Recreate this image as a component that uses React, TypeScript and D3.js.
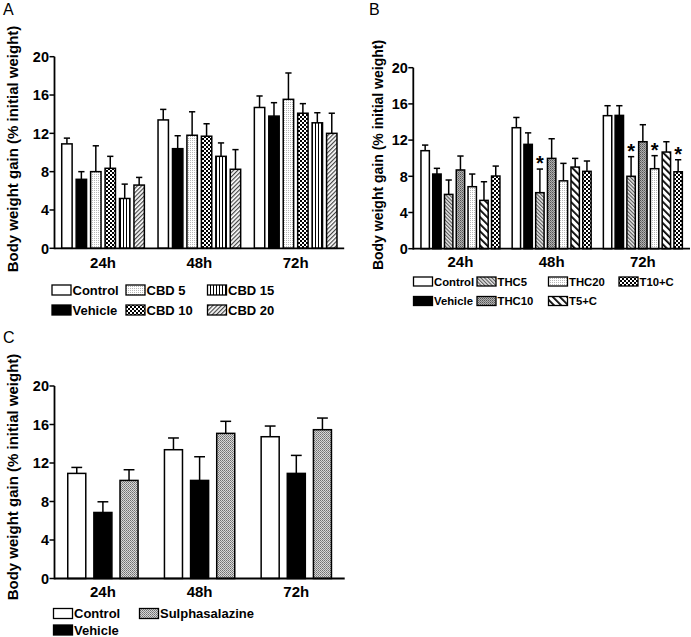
import React from "react";
import * as d3 from "d3";

const FONT = "'Liberation Sans', Arial, Helvetica, sans-serif";

const timepoints = ["24h", "48h", "72h"];
const yTicks = [0, 4, 8, 12, 16, 20];

// Panel A
const cbdSeries = ["Control", "Vehicle", "CBD 5", "CBD 10", "CBD 15", "CBD 20"];
const cbdMeans = [
  [10.9, 13.4, 14.7],
  [7.2, 10.4, 13.8],
  [8.0, 11.8, 15.55],
  [8.35, 11.7, 14.1],
  [5.2, 9.6, 13.1],
  [6.6, 8.25, 12.0],
];
const cbdSems = [
  [0.6, 1.1, 1.2],
  [0.8, 1.35, 1.4],
  [2.7, 2.45, 2.75],
  [1.25, 1.3, 1.0],
  [1.5, 1.4, 1.05],
  [0.8, 2.05, 2.1],
];

// Panel B
const thcSeries = ["Control", "Vehicle", "THC5", "THC10", "THC20", "T5+C", "T10+C"];
const thcMeans = [
  [10.83, 13.37, 14.7],
  [8.25, 11.53, 14.73],
  [6.0, 6.19, 8.0],
  [8.7, 9.98, 11.82],
  [6.85, 7.5, 8.84],
  [5.34, 9.02, 10.68],
  [8.03, 8.55, 8.5],
];
const thcSems = [
  [0.62, 1.13, 1.1],
  [0.63, 1.27, 1.07],
  [1.59, 2.61, 2.17],
  [1.54, 2.17, 1.88],
  [1.4, 1.93, 1.44],
  [2.06, 0.96, 1.14],
  [1.1, 1.14, 1.33],
];
// [timepoint index, series index] flagged with *
const thcSignif = [
  [1, 2],
  [2, 2],
  [2, 4],
  [2, 6],
];

// Panel C
const sulSeries = ["Control", "Vehicle", "Sulphasalazine"];
const sulMeans = [
  [10.92, 13.38, 14.73],
  [6.86, 10.19, 10.92],
  [10.19, 15.08, 15.46],
];
const sulSems = [
  [0.62, 1.22, 1.11],
  [1.11, 2.46, 1.87],
  [1.11, 1.25, 1.21],
];

const fillA = ["#fff", "#000", "url(#pDots)", "url(#pChecker)", "url(#pVert)", "url(#pDiagFine)"];
const fillB = ["#fff", "#000", "url(#pDiagFine2)", "url(#pGrayDark)", "url(#pDots)", "url(#pDiagBold)", "url(#pChecker)"];
const fillC = ["#fff", "#000", "url(#pGrayMid)"];

type PanelProps = {
  series: string[];
  means: number[][];
  sems: number[][];
  fills: string[];
  x0: number;
  x1: number;
  y0: number;
  y1: number;
  pi: number;
  po: number;
  barPad: number;
  capFrac: number;
  stars?: number[][];
  tickSize: number;
  xLabelSize: number;
  xLabelDy: number;
};

function Panel(p: PanelProps) {
  const y = d3.scaleLinear().domain([0, 20]).range([p.y0, p.y1]);
  const xg = d3
    .scaleBand<string>()
    .domain(timepoints)
    .range([p.x0, p.x1])
    .paddingInner(p.pi)
    .paddingOuter(p.po);
  const xs = d3
    .scaleBand<string>()
    .domain(p.series)
    .range([0, xg.bandwidth()])
    .paddingInner(p.barPad)
    .paddingOuter(0);
  const bw = xs.bandwidth();
  const cap = bw * p.capFrac;
  const elems: React.ReactNode[] = [];
  timepoints.forEach((t, ti) => {
    p.series.forEach((s, si) => {
      const m = p.means[si][ti];
      const e = p.sems[si][ti];
      const bx = (xg(t) as number) + (xs(s) as number);
      const cx = bx + bw / 2;
      elems.push(
        <line key={`e${ti}-${si}`} x1={cx} x2={cx} y1={y(m)} y2={y(m + e)} stroke="#000" strokeWidth={1.5} />
      );
      elems.push(
        <line key={`c${ti}-${si}`} x1={cx - cap / 2} x2={cx + cap / 2} y1={y(m + e)} y2={y(m + e)} stroke="#000" strokeWidth={1.5} />
      );
      elems.push(
        <rect key={`b${ti}-${si}`} x={bx} y={y(m)} width={bw} height={y(0) - y(m)} fill={p.fills[si]} stroke="#000" strokeWidth={1.5} />
      );
    });
  });
  (p.stars || []).forEach(([ti, si], k) => {
    const t = timepoints[ti];
    const s = p.series[si];
    const cx = (xg(t) as number) + (xs(s) as number) + bw / 2;
    const top = y(p.means[si][ti] + p.sems[si][ti]);
    elems.push(
      <text key={`s${k}`} x={cx} y={top + 1} textAnchor="middle" fontSize={20} fontWeight="bold" fontFamily={FONT}>
        *
      </text>
    );
  });
  return (
    <g>
      {elems}
      <line x1={p.x0} x2={p.x1} y1={p.y0} y2={p.y0} stroke="#000" strokeWidth={1.8} />
      <line x1={p.x0} x2={p.x0} y1={p.y0 + 0.9} y2={y(20)} stroke="#000" strokeWidth={1.8} />
      {yTicks.map((v) => (
        <g key={`t${v}`}>
          <line x1={p.x0 - 5} x2={p.x0} y1={y(v)} y2={y(v)} stroke="#000" strokeWidth={1.5} />
          <text x={p.x0 - 5.5} y={y(v)} dy="0.36em" textAnchor="end" fontSize={p.tickSize} fontWeight="bold" fontFamily={FONT}>
            {v}
          </text>
        </g>
      ))}
      {timepoints.map((t) => (
        <text
          key={`x${t}`}
          x={(xg(t) as number) + xg.bandwidth() / 2}
          y={p.y0 + p.xLabelDy}
          textAnchor="middle"
          fontSize={p.xLabelSize}
          fontWeight="bold"
          fontFamily={FONT}
        >
          {t}
        </text>
      ))}
    </g>
  );
}

type LegendProps = {
  series: string[];
  fills: string[];
  colX: number[];
  rowY: number[];
  sw: number;
  sh: number;
  fontSize: number;
};

function Legend(l: LegendProps) {
  return (
    <g>
      {l.series.map((s, i) => {
        const cx = l.colX[Math.floor(i / 2)];
        const cy = l.rowY[i % 2];
        return (
          <g key={s}>
            <rect x={cx} y={cy - l.sh / 2} width={l.sw} height={l.sh} fill={l.fills[i]} stroke="#000" strokeWidth={1.3} />
            <text x={cx + l.sw + 1.5} y={cy} dy="0.36em" fontSize={l.fontSize} fontWeight="bold" fontFamily={FONT}>
              {s}
            </text>
          </g>
        );
      })}
    </g>
  );
}

function YLabel({ x, y, size }: { x: number; y: number; size: number }) {
  return (
    <text
      transform={`translate(${x},${y}) rotate(-90)`}
      textAnchor="middle"
      dy="0.35em"
      fontSize={size}
      fontWeight="bold"
      fontFamily={FONT}
    >
      Body weight gain (% initial weight)
    </text>
  );
}

export default function App() {
  return (
    <svg width={691} height={637} style={{ position: "absolute", left: 0, top: 0, background: "#fff" }}>
      <defs>
        <pattern id="pDots" width="2" height="2" patternUnits="userSpaceOnUse">
          <rect width="2" height="2" fill="#fff" />
          <rect x="0" y="0" width="1" height="1" fill="#b8b8b8" />
        </pattern>
        <pattern id="pChecker" width="4" height="4" patternUnits="userSpaceOnUse">
          <rect width="4" height="4" fill="#fff" />
          <rect x="0" y="0" width="2" height="2" fill="#000" />
          <rect x="2" y="2" width="2" height="2" fill="#000" />
        </pattern>
        <pattern id="pVert" width="3" height="3" patternUnits="userSpaceOnUse">
          <rect width="3" height="3" fill="#fff" />
          <rect x="0" y="0" width="1" height="3" fill="#000" />
        </pattern>
        <pattern id="pDiagFine" width="3" height="3" patternUnits="userSpaceOnUse" patternTransform="rotate(45)">
          <rect width="3" height="3" fill="#fff" />
          <rect x="0" y="0" width="1.2" height="3" fill="#444" />
        </pattern>
        <pattern id="pDiagFine2" width="2.6" height="2.6" patternUnits="userSpaceOnUse" patternTransform="rotate(-45)">
          <rect width="2.6" height="2.6" fill="#e8e8e8" />
          <rect x="0" y="0" width="1.1" height="2.6" fill="#555" />
        </pattern>
        <pattern id="pGrayDark" width="2" height="2" patternUnits="userSpaceOnUse">
          <rect width="2" height="2" fill="#b0b0b0" />
          <rect x="0" y="0" width="1" height="1" fill="#555" />
          <rect x="1" y="1" width="1" height="1" fill="#7a7a7a" />
        </pattern>
        <pattern id="pDiagBold" width="5" height="5" patternUnits="userSpaceOnUse" patternTransform="rotate(-45)">
          <rect width="5" height="5" fill="#fff" />
          <rect x="0" y="0" width="1.8" height="5" fill="#000" />
        </pattern>
        <pattern id="pGrayMid" width="2" height="2" patternUnits="userSpaceOnUse">
          <rect width="2" height="2" fill="#d8d8d8" />
          <rect x="0" y="0" width="1" height="1" fill="#707070" />
          <rect x="1" y="1" width="1" height="1" fill="#8a8a8a" />
        </pattern>
      </defs>

      {/* Panel letters */}
      <text x={3} y={15} fontSize={16} fontFamily={FONT}>A</text>
      <text x={369} y={15} fontSize={16} fontFamily={FONT}>B</text>
      <text x={3} y={343} fontSize={16} fontFamily={FONT}>C</text>

      {/* Panel A */}
      <YLabel x={12.5} y={149} size={15} />
      <Panel
        series={cbdSeries}
        means={cbdMeans}
        sems={cbdSems}
        fills={fillA}
        x0={54.5}
        x1={344.2}
        y0={248.3}
        y1={56.7}
        pi={0.142}
        po={0.075}
        barPad={0.28}
        capFrac={0.6}
        tickSize={14.5}
        xLabelSize={15}
        xLabelDy={19.5}
      />
      <Legend
        series={cbdSeries}
        fills={fillA}
        colX={[52, 126, 207.5]}
        rowY={[290, 310]}
        sw={19}
        sh={10}
        fontSize={13}
      />

      {/* Panel B */}
      <YLabel x={378} y={155} size={14} />
      <Panel
        series={thcSeries}
        means={thcMeans}
        sems={thcSems}
        fills={fillB}
        x0={413.3}
        x1={690}
        y0={248.7}
        y1={67.7}
        pi={0.134}
        po={0.084}
        barPad={0.286}
        capFrac={0.75}
        stars={thcSignif}
        tickSize={14.5}
        xLabelSize={15}
        xLabelDy={18}
      />
      <Legend
        series={thcSeries}
        fills={fillB}
        colX={[413.5, 477, 548.5, 619]}
        rowY={[281.5, 301]}
        sw={19}
        sh={9}
        fontSize={11.3}
      />

      {/* Panel C */}
      <YLabel x={12.5} y={477} size={15} />
      <Panel
        series={sulSeries}
        means={sulMeans}
        sems={sulSems}
        fills={fillC}
        x0={54.5}
        x1={344.7}
        y0={578.5}
        y1={386}
        pi={0.273}
        po={0.137}
        barPad={0.31}
        capFrac={0.6}
        tickSize={14.5}
        xLabelSize={15}
        xLabelDy={18}
      />
      <Legend
        series={sulSeries}
        fills={fillC}
        colX={[53.5, 139.5]}
        rowY={[613.5, 630]}
        sw={19}
        sh={10}
        fontSize={13}
      />
    </svg>
  );
}
